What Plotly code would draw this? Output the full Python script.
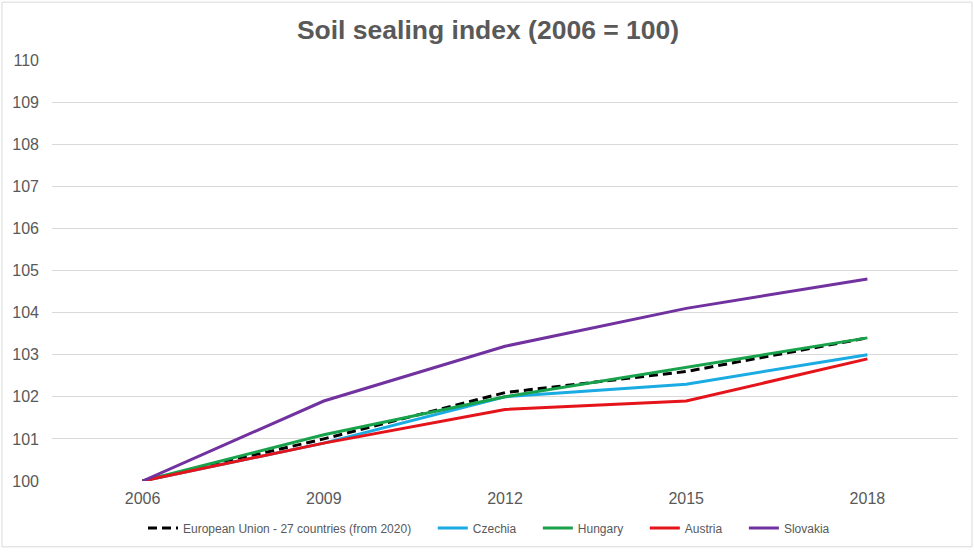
import plotly.graph_objects as go

years = ["2006", "2009", "2012", "2015", "2018"]
eu = [100.0, 101.0, 102.1, 102.6, 103.4]
czechia = [100.0, 100.9, 102.0, 102.3, 103.0]
hungary = [100.0, 101.1, 102.0, 102.7, 103.4]
austria = [100.0, 100.9, 101.7, 101.9, 102.9]
slovakia = [100.0, 101.9, 103.2, 104.1, 104.8]
y_ticks = list(range(100, 111))

W, H = 974, 553
ml, mr, mt, mb = 52, 16, 60, 71

series = [
    ("European Union - 27 countries (from 2020)", eu, "#000000", "9px,5px"),
    ("Czechia", czechia, "#1AABE3", "solid"),
    ("Hungary", hungary, "#17A24B", "solid"),
    ("Austria", austria, "#E5131A", "solid"),
    ("Slovakia", slovakia, "#7132A0", "solid"),
]

pad = "\u00a0" * 5
fig = go.Figure()
for name, vals, col, dash in series:
    fig.add_trace(go.Scatter(x=years, y=vals, name=name + pad, mode="lines",
                             line=dict(color=col, width=3, dash=dash)))

pw = W - ml - mr
ph = H - mt - mb
fig.add_shape(type="rect", xref="paper", yref="paper",
              x0=(2 - ml) / pw, x1=(972 - ml) / pw,
              y0=(H - 548 - mb) / ph, y1=(H - 2 - mb) / ph,
              line=dict(color="#D9D9D9", width=1), fillcolor="rgba(0,0,0,0)")

fig.update_layout(
    width=W, height=H,
    margin=dict(l=ml, r=mr, t=mt, b=mb),
    paper_bgcolor="white", plot_bgcolor="white",
    font=dict(family="Liberation Sans, Arial", color="#595959"),
    title=dict(text="<b>Soil sealing index (2006 = 100)</b>", x=488 / W, xanchor="center",
               y=1 - 30 / H, yanchor="middle", font=dict(size=26.5, color="#595959")),
    showlegend=True,
    legend=dict(orientation="h", xref="paper", x=(497 - ml) / pw, xanchor="center",
                yref="paper", y=-(528 - (H - mb)) / ph, yanchor="middle",
                font=dict(size=12, color="#595959"), traceorder="normal"),
    xaxis=dict(type="category", range=[-0.5, 4.5], showgrid=False, showline=False,
               ticks="", tickfont=dict(size=16, color="#595959"), ticklabelstandoff=6),
    yaxis=dict(range=[100, 110], tickvals=y_ticks, showgrid=True, gridcolor="#D9D9D9",
               gridwidth=1, zeroline=False, showline=False, ticks="",
               tickfont=dict(size=16, color="#595959"), ticklabelstandoff=12),
)

fig.write_html("out.html", config={"displayModeBar": False},
               post_script="document.body.style.margin='0';")
